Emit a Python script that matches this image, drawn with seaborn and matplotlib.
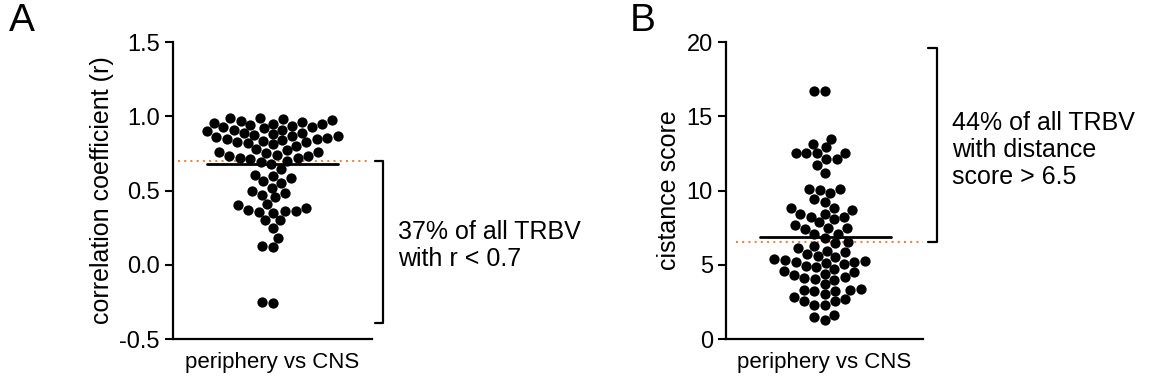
import numpy as np
import pandas as pd
import seaborn as sns
import matplotlib
matplotlib.use("Agg")
import matplotlib.pyplot as plt

# values
category = "periphery vs CNS"

corr_r = [0.99, 0.985, 0.98, 0.975, 0.97, 0.96, 0.955, 0.95, 0.945, 0.94, 0.935, 0.93, 0.925, 0.92, 0.91, 0.905, 0.90,
          0.89, 0.885, 0.88, 0.875, 0.87, 0.865, 0.86, 0.855, 0.85, 0.845, 0.84, 0.835, 0.83, 0.825, 0.82, 0.81, 0.80,
          0.78, 0.77, 0.76, 0.76, 0.75, 0.74, 0.73, 0.73, 0.72, 0.72, 0.71, 0.70, 0.69, 0.68, 0.645,
          0.605, 0.60, 0.585, 0.565, 0.55, 0.52, 0.50, 0.485, 0.47, 0.455,
          0.41, 0.40, 0.385, 0.37, 0.365, 0.36, 0.355, 0.35,
          0.30, 0.30, 0.25, 0.18, 0.125, 0.12, -0.25, -0.26]

dist_score = [16.7, 16.7,
              13.5, 13.15, 12.9, 12.55, 12.55, 12.5, 12.5, 12.1, 12.1, 11.7, 11.2,
              10.1, 10.1, 10.05, 9.8, 9.45, 9.2,
              8.8, 8.8, 8.7, 8.45, 8.45, 8.25, 8.25, 8.05, 7.85,
              7.65, 7.5, 7.45, 7.4, 7.1, 7.05, 6.8, 6.5,
              6.45, 6.25, 6.1, 5.95, 5.85, 5.7, 5.6, 5.5, 5.4, 5.3, 5.25, 5.2, 5.2,
              5.15, 5.05, 4.95, 4.85, 4.7, 4.6, 4.5, 4.4, 4.3, 4.2, 4.1, 4.05, 4.0,
              3.7, 3.35, 3.3, 3.3, 3.25, 3.25, 3.0, 2.8, 2.7, 2.55, 2.55,
              2.3, 2.3, 1.6, 1.45, 1.3]

median_a = 0.68
median_b = 6.85
cut_a = 0.7
cut_b = 6.5

sns.set_style("ticks")
plt.rcParams['font.family'] = ['Liberation Sans', 'DejaVu Sans']
plt.rcParams['text.color'] = 'black'
plt.rcParams['axes.labelcolor'] = 'black'
plt.rcParams['xtick.color'] = 'black'
plt.rcParams['ytick.color'] = 'black'
plt.rcParams['axes.edgecolor'] = 'black'
orange = "#ee7d3a"

fig = plt.figure(figsize=(11.49, 3.89), dpi=100)
ax1 = fig.add_axes([0.1506, 0.1285, 0.1732, 0.7635])
ax2 = fig.add_axes([0.6319, 0.1285, 0.1714, 0.7635])

df_a = pd.DataFrame({"group": category, "r": corr_r})
df_b = pd.DataFrame({"group": category, "score": dist_score})

sns.swarmplot(data=df_a, x="group", y="r", color="black", size=7.4, ax=ax1)
sns.swarmplot(data=df_b, x="group", y="score", color="black", size=7.4, ax=ax2)

for ax in (ax1, ax2):
    ax.set_xlim(-0.5, 0.5)
    sns.despine(ax=ax)
    ax.spines['left'].set_linewidth(1.6)
    ax.spines['bottom'].set_linewidth(1.6)
    ax.tick_params(axis='y', length=6, width=1.5, labelsize=17, direction='out')
    ax.tick_params(axis='x', length=0, labelsize=16, pad=9)
    ax.set_xlabel("")

# panel A
ax1.set_ylim(-0.5, 1.5)
ax1.set_yticks([-0.5, 0.0, 0.5, 1.0, 1.5])
ax1.set_yticklabels(["-0.5", "0.0", "0.5", "1.0", "1.5"])
ax1.set_ylabel("correlation coefficient (r)", fontsize=18)
ax1.plot([-0.475, 0.49], [cut_a, cut_a], color=orange, ls=(0, (1, 2.2)), lw=1.4, zorder=1)
ax1.plot([-0.33, 0.33], [median_a, median_a], color="black", lw=2, zorder=3)
ax1.plot([0.515, 0.555, 0.555, 0.515], [cut_a, cut_a, -0.39, -0.39], color="black", lw=1.6, clip_on=False)
ax1.text(0.63, 0.13, "37% of all TRBV\nwith r < 0.7", fontsize=18, va="center", ha="left",
         linespacing=1.15, clip_on=False)
fig.text(0.008, 0.9, "A", fontsize=28, va="bottom", ha="left")

# panel B
ax2.set_ylim(0, 20)
ax2.set_yticks([0, 5, 10, 15, 20])
ax2.set_ylabel("cistance score", fontsize=18)
ax2.plot([-0.45, 0.5], [cut_b, cut_b], color=orange, ls=(0, (1, 2.2)), lw=1.4, zorder=1)
ax2.plot([-0.33, 0.34], [median_b, median_b], color="black", lw=2, zorder=3)
ax2.plot([0.525, 0.57, 0.57, 0.525], [19.6, 19.6, cut_b, cut_b], color="black", lw=1.6, clip_on=False)
ax2.text(0.647, 12.75, "44% of all TRBV\nwith distance\nscore > 6.5", fontsize=18, va="center", ha="left",
         linespacing=1.15, clip_on=False)
fig.text(0.548, 0.9, "B", fontsize=28, va="bottom", ha="left")

fig.savefig("out.png", dpi=100)
